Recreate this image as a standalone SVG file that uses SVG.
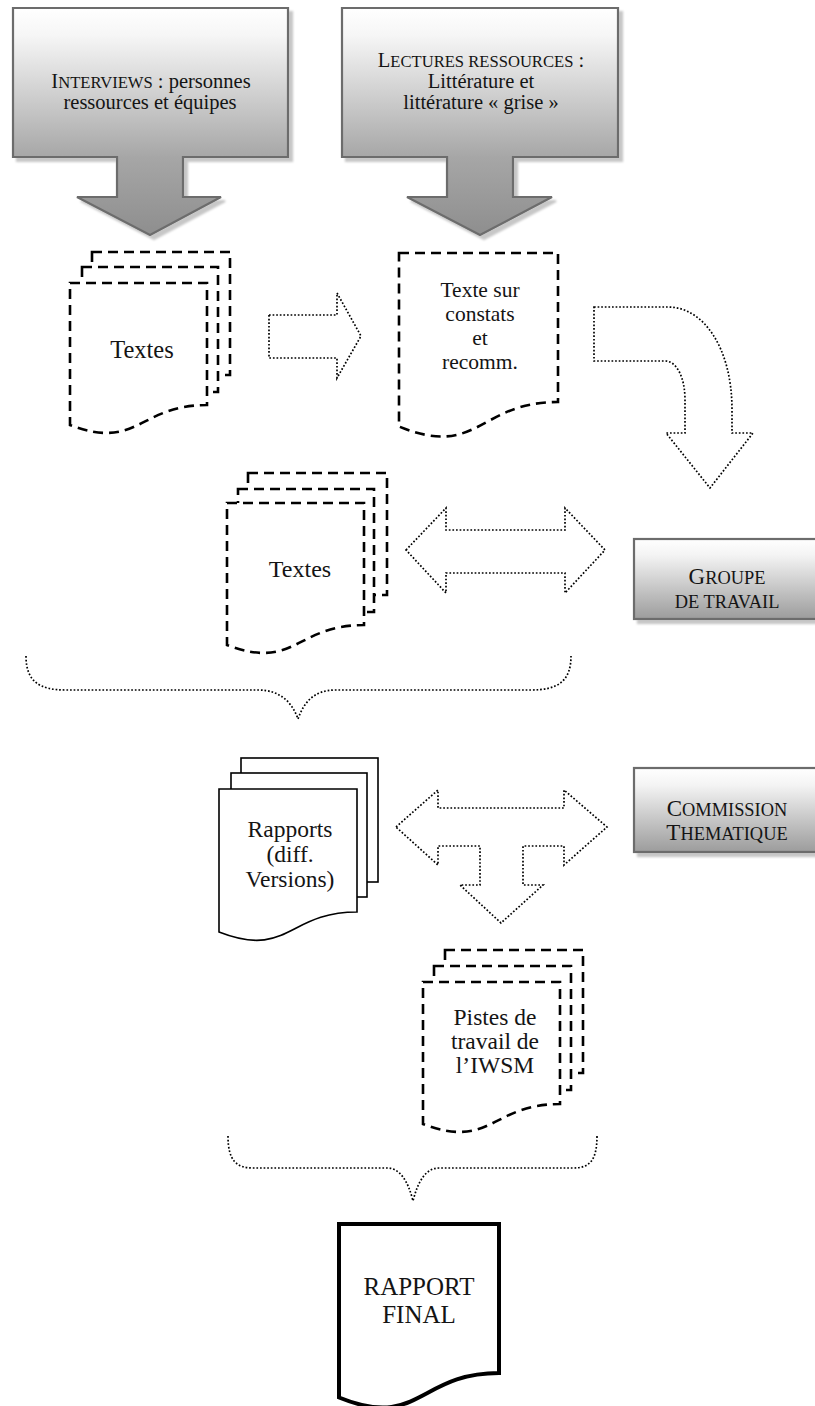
<svg xmlns="http://www.w3.org/2000/svg" width="815" height="1406" viewBox="0 0 815 1406">
<defs>
<linearGradient id="gCall" x1="0" y1="0" x2="0" y2="1">
<stop offset="0" stop-color="#ffffff"/><stop offset="0.12" stop-color="#f6f6f6"/><stop offset="0.66" stop-color="#a6a6a6"/><stop offset="1" stop-color="#8e8e8e"/>
</linearGradient>
<linearGradient id="gBox" x1="0" y1="0" x2="0" y2="1">
<stop offset="0" stop-color="#ffffff"/><stop offset="0.2" stop-color="#f4f4f4"/><stop offset="1" stop-color="#9c9c9c"/>
</linearGradient>
<filter id="sh" x="-10%" y="-10%" width="130%" height="130%">
<feGaussianBlur in="SourceAlpha" stdDeviation="1.2"/><feOffset dx="4" dy="4" result="b"/>
<feFlood flood-color="#000" flood-opacity="0.22"/><feComposite in2="b" operator="in"/>
<feMerge><feMergeNode/><feMergeNode in="SourceGraphic"/></feMerge>
</filter>
<style>
.call{fill:url(#gCall);stroke:#6c6c6c;stroke-width:2.2;filter:url(#sh)}
.box{fill:url(#gBox);stroke:#6c6c6c;stroke-width:2.2;filter:url(#sh)}
.dash{fill:#fff;stroke:#000;stroke-width:2.6;stroke-dasharray:10 6}
.solid{fill:#fff;stroke:#000;stroke-width:1.6}
.thick{fill:#fff;stroke:#000;stroke-width:4}
.dot{fill:#fff;stroke:#000;stroke-width:1.7;stroke-dasharray:1.7 1.9}
.brace{fill:none;stroke:#000;stroke-width:1.7;stroke-dasharray:1.7 1.9}
text{font-family:"Liberation Serif","Times New Roman",serif;fill:#141414;text-anchor:middle}
.c{font-size:20.5px}
.b{font-size:23px}
.sc{font-size:16.6px}
.scb{font-size:18.4px}
.d{font-size:21.5px}
.r{font-size:23.5px}
</style>
</defs>

<g id="callout-interviews">
<path class="call" d="M13,8 H288 V157 H183 V197 H221 L150,235 L77,197 H117 V157 H13 Z"/>
<text class="c" x="151" y="88">I<tspan class="sc">NTERVIEWS</tspan> : personnes</text>
<text class="c" x="150" y="109">ressources et équipes</text>
</g>

<g id="callout-lectures">
<path class="call" d="M342,8 H618 V157 H513 V197 H552 L480,235 L407,197 H447 V157 H342 Z"/>
<text class="c" x="481" y="67">L<tspan class="sc">ECTURES RESSOURCES</tspan> :</text>
<text class="c" x="481" y="88">Littérature et</text>
<text class="c" x="481" y="109">littérature « grise »</text>
</g>

<g id="doc-textes-1">
<rect class="dash" x="92" y="252" width="138" height="123"/>
<rect class="dash" x="82" y="267" width="136" height="125"/>
<path class="dash" d="M70,283 H207 V405 C138.5,405 138.5,451 70,425 Z"/>
<text x="142" y="358" style="font-size:24.5px">Textes</text>
</g>

<g id="doc-constats">
<path class="dash" d="M399,253 H558 V402 C478.5,402 478.5,459 399,426.5 Z"/>
<text class="d" x="480" y="297">Texte sur</text>
<text class="d" x="480" y="321">constats</text>
<text class="d" x="480" y="345">et</text>
<text class="d" x="480" y="369">recomm.</text>
</g>

<g id="doc-textes-2">
<rect class="dash" x="248" y="473" width="139" height="122"/>
<rect class="dash" x="238" y="489" width="136" height="123"/>
<path class="dash" d="M227,503 H364 V625 C295.5,625 295.5,671 227,645 Z"/>
<text x="300" y="577" style="font-size:24px">Textes</text>
</g>

<g id="box-groupe">
<rect class="box" x="634" y="539" width="190" height="80"/>
<text class="b" x="727" y="584">G<tspan class="scb">ROUPE</tspan></text>
<text class="b" x="727" y="608"><tspan class="scb">DE TRAVAIL</tspan></text>
</g>

<g id="doc-rapports">
<rect class="solid" x="241" y="758" width="137" height="124"/>
<rect class="solid" x="231" y="773" width="136" height="124"/>
<path class="solid" d="M219,789 H357 V912 C288,912 288,959 219,932 Z"/>
<text class="r" x="290" y="837">Rapports</text>
<text class="r" x="290" y="862">(diff.</text>
<text class="r" x="290" y="887">Versions)</text>
</g>

<g id="box-commission">
<rect class="box" x="634" y="768" width="190" height="84"/>
<text class="b" x="727" y="816">C<tspan class="scb">OMMISSION</tspan></text>
<text class="b" x="727" y="840">T<tspan class="scb">HEMATIQUE</tspan></text>
</g>

<g id="doc-pistes">
<rect class="dash" x="445" y="950" width="138" height="123"/>
<rect class="dash" x="434" y="966" width="137" height="124"/>
<path class="dash" d="M423,982 H560 V1104 C491.5,1104 491.5,1150 423,1124 Z"/>
<text x="495" y="1025" style="font-size:23.5px">Pistes de</text>
<text x="495" y="1049" style="font-size:23.5px">travail de</text>
<text x="495" y="1073" style="font-size:23.5px">l’IWSM</text>
</g>

<g id="doc-rapport-final">
<path class="thick" d="M339,1224 H499 V1373 C419,1373 419,1430 339,1397.5 Z"/>
<text x="419" y="1295" style="font-size:25px">RAPPORT</text>
<text x="419" y="1323" style="font-size:25px">FINAL</text>
</g>

<g id="connectors">
<path class="dot" d="M269,315 H337 V293 L361,336 L337,378 V358 H269 Z"/>
<path class="dot" d="M594,307 H668 C703,307 732,347 732,410 V433 H753 L710,488 L666,433 H685 V400 C685,378 677,361 665,361 H594 Z"/>
<path class="dot" d="M406,550 L446,508 V530 H565 V508 L605,550 L565,593 V573 H446 V593 Z"/>
<path class="brace" d="M26,656 C26,682 40,690 66,690 H258 C280,690 292,702 298,719 C304,702 314,690 336,690 H531 C557,690 571,682 571,656"/>
<path class="dot" d="M396,827 L438,790 V808 H564 V790 L607,827 L564,865 V846 H523 V885 H543 L501,923 L460,885 H480 V846 H438 V865 Z"/>
<path class="brace" d="M228,1136 C228,1160 236,1168 253,1168 H387 C400,1168 408,1181 413,1201 C418,1181 426,1168 439,1168 H573 C590,1168 597,1160 597,1136"/>
</g>
</svg>
